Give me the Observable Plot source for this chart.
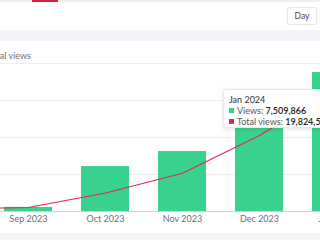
<!DOCTYPE html>
<html>
<head>
<meta charset="utf-8">
<script src="https://cdn.jsdelivr.net/npm/d3@7"></script>
<script src="https://cdn.jsdelivr.net/npm/@observablehq/plot@0.6"></script>
<style>
  html, body { margin:0; padding:0; }
  body { width:320px; height:240px; overflow:hidden; position:relative; background:#f4f3f7; font-family: Lato, "Open Sans", sans-serif; }
  #top { position:absolute; left:0; top:0; width:320px; height:30px; background:#fff; border-top:2px solid #eeeeee; box-sizing:border-box; }
  #tab { position:absolute; left:32px; top:0; width:26px; height:2px; background:#d81f3c; }
  #day { position:absolute; left:287px; top:7px; width:30px; height:18px; box-sizing:border-box; border:1px solid #e6e6e6; border-radius:3px; font-size:8.5px; color:#444; text-align:center; line-height:16px; background:#fff; }
  #card { position:absolute; left:0; top:41px; width:320px; height:192px; background:#fff; }
  #ytitle { position:absolute; right:289px; top:50px; font-size:9px; color:#6e7079; white-space:nowrap; }
  #chart { position:absolute; left:-88.5px; top:55px; width:462px; height:180px; }
  #chart svg { max-width:none !important; width:462px; height:180px; }
  #tip { position:absolute; left:223px; top:89px; width:120px; height:39px; box-sizing:border-box; background:#fff; border:1px solid #e8e8e8; box-shadow:0 1px 4px rgba(0,0,0,0.12); border-radius:3px; padding:4px 0 0 5px; font-size:9px; color:#555; line-height:11px; white-space:nowrap; }
  #tip .t { color:#333; }
  #tip .m { display:inline-block; width:5px; height:5px; margin-right:3px; vertical-align:1px; }
  #tip b { color:#222; font-weight:600; }
</style>
</head>
<body>
<div id="top"></div>
<div id="tab"></div>
<div id="day">Day</div>
<div id="card"></div>
<div id="ytitle">Total views</div>
<div id="chart"></div>
<div id="tip"></div>
<script>
const months = ["Aug 2023", "Sep 2023", "Oct 2023", "Nov 2023", "Dec 2023", "Jan 2024"];
const views = [150000, 220000, 2430000, 3240000, 6100000, 7509866];
const totalViews = [400000, 650000, 3000000, 6200000, 12310000, 19824522];
const leftTicks = [0, 2000000, 4000000, 6000000, 8000000];
const leftMax = 8000000;
const rightMax = 24000000;

const green = "#38d18e";
const red = "#dc2a48";

const data = months.map((m, i) => ({month: m, views: views[i], total: totalViews[i], totalScaled: totalViews[i] * leftMax / rightMax}));

const plot = Plot.plot({
  width: 462,
  height: 180,
  marginLeft: 0,
  marginRight: 0,
  marginTop: 8,
  marginBottom: 24,
  style: {fontFamily: "Lato, 'Open Sans', sans-serif", fontSize: "9px", color: "#6e7079", background: "transparent", overflow: "visible"},
  x: {domain: months, paddingInner: 0.377, paddingOuter: 0.1885, axis: null, label: null},
  y: {domain: [0, leftMax], axis: null},
  marks: [
    Plot.ruleY(leftTicks.slice(1), {stroke: "#eeeeee", strokeWidth: 1}),
    Plot.barY(data, {x: "month", y: "views", fill: green}),
    Plot.ruleY([0], {stroke: "#cfcfcf", strokeWidth: 1}),
    Plot.line(data, {x: "month", y: "totalScaled", stroke: red, strokeWidth: 1.1}),
    Plot.axisX({tickSize: 0, tickPadding: 4, fontSize: 9, fill: "#6e7079", label: null})
  ]
});
document.getElementById("chart").appendChild(plot);

const fmt = d3.format(",");
const i = months.length - 1;
document.getElementById("tip").innerHTML =
  `<div class="t">${months[i]}</div>` +
  `<div><span class="m" style="background:${green}"></span>Views: <b>${fmt(views[i])}</b></div>` +
  `<div><span class="m" style="background:${red}"></span>Total views: <b>${fmt(totalViews[i])}</b></div>`;
</script>
</body>
</html>
